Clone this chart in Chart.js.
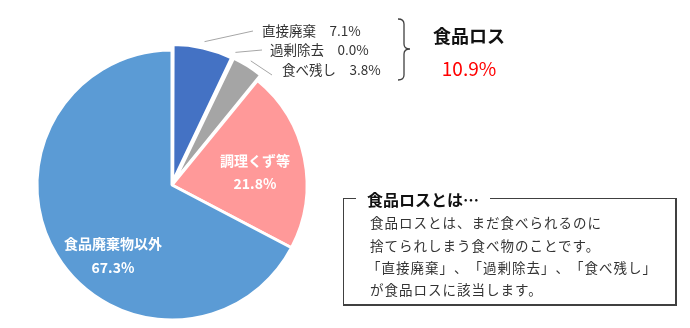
<!DOCTYPE html>
<html>
<head>
<meta charset="utf-8">
<script src="https://cdn.jsdelivr.net/npm/chart.js@4"></script>
<style>
  html, body { margin: 0; padding: 0; background: #fff; }
  body { width: 690px; height: 328px; position: relative; overflow: hidden;
         font-family: "Noto Sans CJK JP", "Noto Sans", sans-serif; text-spacing-trim: space-all; }
  #wrap { position: absolute; left: 0; top: 0; width: 690px; height: 328px; }
  .t { position: absolute; white-space: nowrap; line-height: 1; }
  .c { transform: translate(-50%, -50%); }
  .l { transform: translateY(-50%); }
  .in { color: #fff; font-weight: bold; font-size: 14px; }
  .out { color: #333; font-size: 13.5px; }
  #box { position: absolute; left: 343px; top: 198px; width: 334px; height: 108px;
         border: 1px solid #404040; border-right-width: 2px; border-bottom-width: 2px; box-sizing: border-box; }
  #boxTitle { position: absolute; left: 356px; top: 189px; background: #fff; padding: 0 11px;
              font-size: 16px; font-weight: bold; color: #111; line-height: 20px; }
  .body { position: absolute; left: 370px; font-size: 13.5px; color: #333; letter-spacing: 1px; line-height: 1;
          white-space: nowrap; }
</style>
</head>
<body>
<div id="wrap"><canvas id="pie" width="690" height="328"></canvas></div>

<!-- slice labels -->
<div class="t c in" style="left:255px; top:160px;">調理くず等</div>
<div class="t c in" style="left:255px; top:183px;">21.8%</div>
<div class="t c in" style="left:113px; top:243px;">食品廃棄物以外</div>
<div class="t c in" style="left:113px; top:267px;">67.3%</div>

<div class="t l out" style="left:262px; top:31px;">直接廃棄　7.1%</div>
<div class="t l out" style="left:270px; top:50px;">過剰除去　0.0%</div>
<div class="t l out" style="left:282px; top:70px;">食べ残し　3.8%</div>

<!-- bracket -->
<svg style="position:absolute; left:0; top:0;" width="690" height="328">
  <path d="M398,19 Q404,19 404,24 L404,44 Q404,49 410,49 Q404,49 404,54 L404,75 Q404,80 398,80"
        fill="none" stroke="#404040" stroke-width="1.3"/>
</svg>

<div class="t l" style="left:433px; top:35px; font-size:18px; font-weight:bold; color:#111;">食品ロス</div>
<div class="t c" style="left:469px; top:67px; font-size:19px; color:#ff0000;">10.9%</div>

<!-- explanation box -->
<div id="box"></div>
<div id="boxTitle">食品ロスとは…</div>
<div class="body" style="top:216px;">食品ロスとは、まだ食べられるのに</div>
<div class="body" style="top:239px;">捨てられしまう食べ物のことです。</div>
<div class="body" style="top:261px; left:367px;">「直接廃棄」、「過剰除去」、「食べ残し」</div>
<div class="body" style="top:283px;">が食品ロスに該当します。</div>

<script>
// data
const categories = ['直接廃棄', '過剰除去', '食べ残し', '調理くず等', '食品廃棄物以外'];
const shares = [7.1, 0.0, 3.8, 21.8, 67.3];
const sliceColors = ['#4472C4', '#A5A5A5', '#A5A5A5', '#FF9999', '#5B9BD5'];
const sliceOffsets = [14, 14, 14, 0, 0];

// where the leader lines of the small (outside) labels end
const leaderAnchors = [[253, 31], [262, 50], [272, 75], null, null];

const leaderLines = {
  id: 'leaderLines',
  afterDatasetsDraw(chart) {
    const ctx = chart.ctx;
    const meta = chart.getDatasetMeta(0);
    ctx.save();
    ctx.strokeStyle = '#A6A6A6';
    ctx.lineWidth = 1;
    meta.data.forEach((arc, i) => {
      const a = leaderAnchors[i];
      if (!a) return;
      const mid = (arc.startAngle + arc.endAngle) / 2;
      const r = arc.outerRadius + sliceOffsets[i] - 2;
      const x = arc.x + Math.cos(mid) * r;
      const y = arc.y + Math.sin(mid) * r;
      ctx.beginPath();
      ctx.moveTo(a[0], a[1]);
      ctx.lineTo(x, y);
      ctx.stroke();
    });
    ctx.restore();
  }
};

new Chart(document.getElementById('pie'), {
  type: 'pie',
  data: {
    labels: categories,
    datasets: [{
      data: shares,
      backgroundColor: sliceColors,
      borderColor: '#ffffff',
      borderWidth: 3,
      offset: sliceOffsets
    }]
  },
  options: {
    responsive: false,
    animation: false,
    radius: 135,
    layout: { padding: { left: 0, right: 346, top: 42, bottom: 0 } },
    plugins: { legend: { display: false }, tooltip: { enabled: false } }
  },
  plugins: [leaderLines]
});
</script>
</body>
</html>
